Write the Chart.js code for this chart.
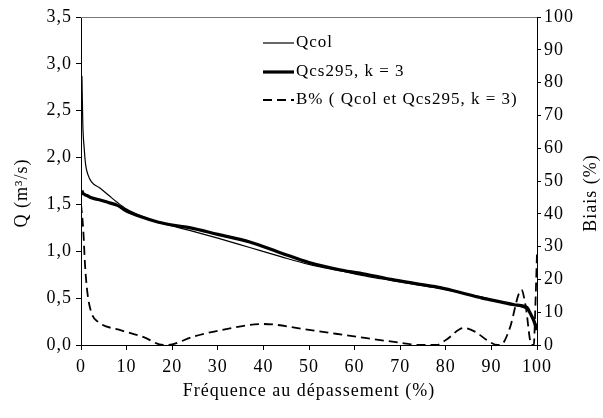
<!DOCTYPE html>
<html>
<head>
<meta charset="utf-8">
<script src="https://cdn.jsdelivr.net/npm/chart.js@4/dist/chart.umd.min.js"></script>
<style>
  html, body { margin: 0; padding: 0; background: #fff; }
  #wrap { width: 603px; height: 418px; }
</style>
</head>
<body>
<div id="wrap"><canvas id="c" width="603" height="418"></canvas></div>
<script>
// fréquence au dépassement (%) des débits
const freqQ = [0.2, 0.4, 0.7, 1, 1.5, 2.3, 4, 6, 8, 10, 13, 17, 20, 24, 30, 37, 44, 50, 57, 63, 68, 74, 79, 84, 88, 92, 95, 96.5, 97.8, 98.6, 99.2, 100];
const qcol = [2.87, 2.35, 2.1, 1.93, 1.82, 1.74, 1.68, 1.6, 1.52, 1.45, 1.38, 1.31, 1.27, 1.22, 1.14, 1.04, 0.94, 0.86, 0.79, 0.73, 0.69, 0.64, 0.60, 0.55, 0.51, 0.46, 0.43, 0.41, 0.38, 0.34, 0.29, 0.20];
const qcs295 = [1.65, 1.62, 1.61, 1.60, 1.59, 1.57, 1.55, 1.52, 1.49, 1.43, 1.37, 1.31, 1.28, 1.25, 1.18, 1.10, 0.98, 0.88, 0.80, 0.75, 0.70, 0.65, 0.61, 0.55, 0.50, 0.46, 0.43, 0.42, 0.40, 0.33, 0.27, 0.16];

// biais (%)
const freqB = [0, 0.5, 0.9, 1.4, 2.3, 3.8, 8.5, 13.6, 18, 20, 24.5, 31, 40, 50, 60.5, 70, 74.5, 78, 80, 84, 86.5, 89, 91.4, 92.5, 94, 96.6, 97.5, 98.8, 99.3, 99.6, 100];
const biais = [43, 35, 24, 16, 9.8, 7, 4.6, 2.5, 0, 0.2, 2.5, 4.6, 6.4, 4.6, 2.5, 0.7, 0, 0, 1.5, 5.2, 4, 1.5, 0, 0.5, 5, 16.8, 12, 0, 0, 10, 28];

const legendLabels = ["Qcol", "Qcs295, k = 3", "B% ( Qcol et Qcs295, k = 3)"];
const yTitleLeft = "Q (m³/s)";
const yTitleRight = "Biais (%)";

const FONT = "'Liberation Serif', 'Times New Roman', serif";
const SPACING = "1px";
const pts = (xs, ys) => xs.map((x, i) => ({ x: x, y: ys[i] }));

// espacement des lettres un peu large, comme le scan
const spacing = {
  id: "spacing",
  beforeLayout(chart) { chart.ctx.letterSpacing = SPACING; },
  beforeDraw(chart) { chart.ctx.letterSpacing = SPACING; }
};

// titres verticaux, legende sans cadre, bord du haut
const extras = {
  id: "extras",
  afterDraw(chart) {
    const ctx = chart.ctx;
    const a = chart.chartArea;
    ctx.save();
    ctx.letterSpacing = SPACING;
    ctx.strokeStyle = "#777";
    ctx.lineWidth = 1;
    ctx.beginPath();
    ctx.moveTo(a.left, a.top + 0.5);
    ctx.lineTo(a.right, a.top + 0.5);
    ctx.stroke();

    ctx.fillStyle = "#000";
    ctx.font = "18px " + FONT;
    ctx.textAlign = "center";
    ctx.textBaseline = "middle";
    [[22, yTitleLeft], [591, yTitleRight]].forEach(([x, t]) => {
      ctx.save();
      ctx.translate(x, 193);
      ctx.rotate(-Math.PI / 2);
      ctx.fillText(t, 0, 0);
      ctx.restore();
    });

    ctx.textAlign = "left";
    const rows = [43, 72, 100];
    chart.data.datasets.forEach((ds, i) => {
      ctx.strokeStyle = "#000";
      ctx.lineWidth = ds.borderWidth;
      ctx.setLineDash(ds.borderDash || []);
      ctx.beginPath();
      ctx.moveTo(263, rows[i]);
      ctx.lineTo(294, rows[i]);
      ctx.stroke();
      ctx.setLineDash([]);
      ctx.font = "17px " + FONT;
      ctx.fillText(legendLabels[i], 296, rows[i]);
    });
    ctx.restore();
  }
};

new Chart(document.getElementById("c"), {
  type: "line",
  data: {
    datasets: [
      {
        label: legendLabels[0],
        data: pts(freqQ, qcol),
        borderColor: "#000",
        borderWidth: 1.2,
        pointRadius: 0,
        cubicInterpolationMode: "monotone",
        yAxisID: "y"
      },
      {
        label: legendLabels[1],
        data: pts(freqQ, qcs295),
        borderColor: "#000",
        borderWidth: 3.2,
        pointRadius: 0,
        cubicInterpolationMode: "monotone",
        yAxisID: "y"
      },
      {
        label: legendLabels[2],
        data: pts(freqB, biais),
        borderColor: "#000",
        borderWidth: 1.8,
        borderDash: [9, 5],
        pointRadius: 0,
        cubicInterpolationMode: "monotone",
        yAxisID: "y1"
      }
    ]
  },
  options: {
    responsive: false,
    animation: false,
    layout: { padding: { top: 17, right: 0, left: 0, bottom: 0 } },
    plugins: {
      legend: { display: false },
      tooltip: { enabled: false }
    },
    scales: {
      x: {
        type: "linear",
        min: 0,
        max: 100,
        ticks: { stepSize: 10, color: "#000", padding: 6, font: { family: FONT, size: 18 } },
        grid: { drawOnChartArea: false, color: "#000", tickLength: 5 },
        border: { color: "#000" },
        title: { display: true, text: "Fréquence au dépassement (%)", color: "#000", padding: { top: 0, bottom: 16 }, font: { family: FONT, size: 18 } },
        afterFit(s) { s.height = 73; }
      },
      y: {
        position: "left",
        min: 0,
        max: 3.5,
        ticks: {
          stepSize: 0.5,
          color: "#000",
          padding: 4,
          font: { family: FONT, size: 18 },
          callback: v => v.toFixed(1).replace(".", ",")
        },
        grid: { drawOnChartArea: false, color: "#000", tickLength: 5 },
        border: { color: "#000" },
        afterFit(s) { s.width = 81; }
      },
      y1: {
        position: "right",
        min: 0,
        max: 100,
        ticks: { stepSize: 10, color: "#000", padding: 3, font: { family: FONT, size: 18 } },
        grid: { drawOnChartArea: false, color: "#000", tickLength: 4 },
        border: { color: "#000" },
        afterFit(s) { s.width = 66; }
      }
    }
  },
  plugins: [spacing, extras]
});
</script>
</body>
</html>
